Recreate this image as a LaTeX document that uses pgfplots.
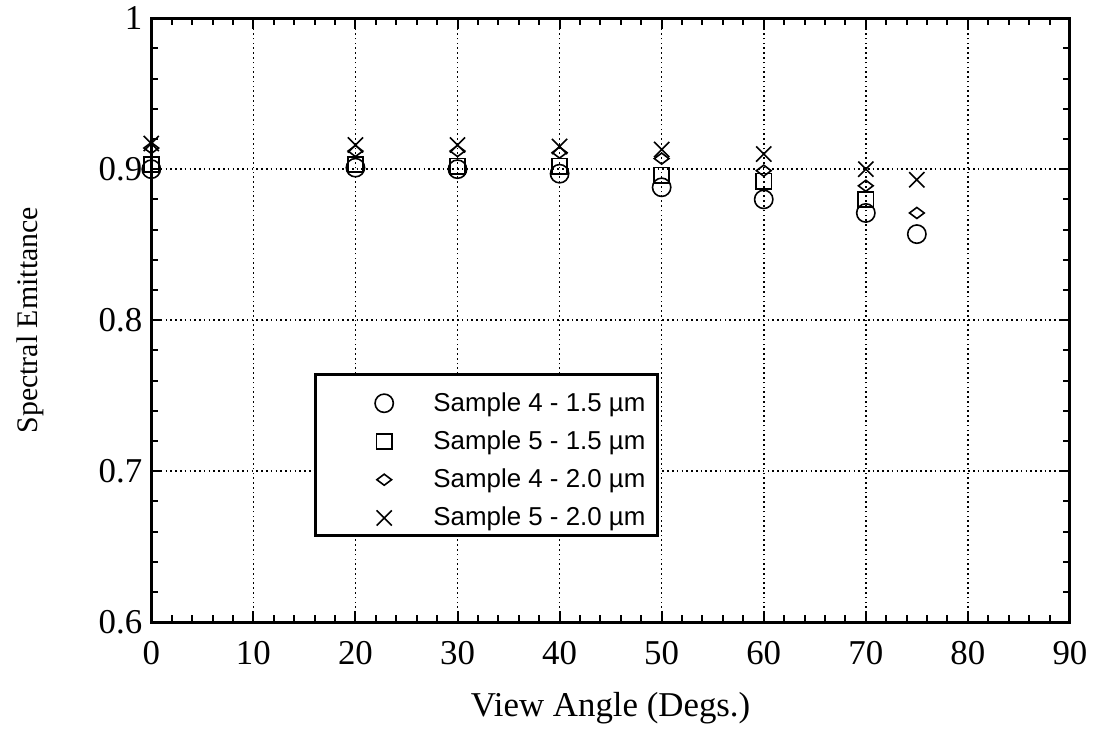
\documentclass[border=0pt]{standalone}
\usepackage{pgfplots}
\pgfplotsset{compat=1.18}
\usepackage{fontspec}
\setmainfont{Liberation Serif}
\newfontfamily\sans{Liberation Sans}
\begin{document}
\begin{tikzpicture}
\begin{axis}[
  at={(0,0)}, anchor=south west,
  scale only axis, width=461.5pt, height=303.5pt,
  xmin=0, xmax=90, ymin=0.6, ymax=1,
  xtick={0,10,20,30,40,50,60,70,80,90},
  xticklabels={0,10,20,30,40,50,60,70,80,90},
  ytick={0.6,0.7,0.8,0.9,1},
  yticklabels={0.6,0.7,0.8,0.9,1},
  minor x tick num=4, minor y tick num=4,
  tick align=inside,
  major tick length=5.5pt, minor tick length=3.5pt,
  every tick/.style={black, line width=1pt},
  grid=major,
  major grid style={black, line width=0.8pt, dash pattern=on 0.8pt off 1.6pt},
  axis line style={line width=1.5pt},
  ticklabel style={font=\fontsize{17.5}{20}\selectfont},
  xticklabel style={yshift=-6pt},
  yticklabel style={xshift=-1pt},
  xlabel={View Angle (Degs.)},
  ylabel={Spectral Emittance},
  xlabel style={font=\fontsize{17.5}{20}\selectfont, at={(axis description cs:0.5,-0.142)}, anchor=center},
  ylabel style={font=\fontsize{15}{18}\selectfont, at={(axis description cs:-0.132,0.5)}, anchor=center},
  legend cell align=left,
  legend image code/.code={\path (-29pt,11pt) (20pt,-3pt); \draw[#1] plot coordinates {(0pt,0pt)};},
  legend style={at={(axis description cs:0.1766,0.412)}, anchor=north west,
    draw=black, line width=1.5pt, fill=white,
    font=\sans\fontsize{13}{15}\selectfont,
    nodes={inner sep=1pt},
    inner xsep=5pt, inner ysep=2.5pt, row sep=1pt,
    /tikz/every odd column/.append style={column sep=3pt}},
]
\addplot[only marks, mark=o, mark size=4.6pt, mark options={black, line width=0.8pt}]
  coordinates {(0,0.900) (20,0.901) (30,0.900) (40,0.897) (50,0.888) (60,0.880) (70,0.871) (75,0.857)};
\addlegendentry{Sample 4 - 1.5 µm}
\addplot[only marks, mark=square, mark size=3.8pt, mark options={black, line width=0.8pt}]
  coordinates {(0,0.903) (20,0.903) (30,0.902) (40,0.902) (50,0.896) (60,0.892) (70,0.880)};
\addlegendentry{Sample 5 - 1.5 µm}
\addplot[only marks, mark=diamond, mark size=3.7pt, mark options={black, line width=0.8pt, rotate=90}]
  coordinates {(0,0.914) (20,0.912) (30,0.912) (40,0.911) (50,0.907) (60,0.899) (70,0.889) (75,0.871)};
\addlegendentry{Sample 4 - 2.0 µm}
\addplot[only marks, mark=x, mark size=5.4pt, mark options={black, line width=0.8pt}]
  coordinates {(0,0.917) (20,0.916) (30,0.916) (40,0.915) (50,0.913) (60,0.910) (70,0.900) (75,0.893)};
\addlegendentry{Sample 5 - 2.0 µm}
\end{axis}
\path[use as bounding box] (-76pt,-56.5pt) rectangle (471pt,312.5pt);
\end{tikzpicture}
\end{document}
